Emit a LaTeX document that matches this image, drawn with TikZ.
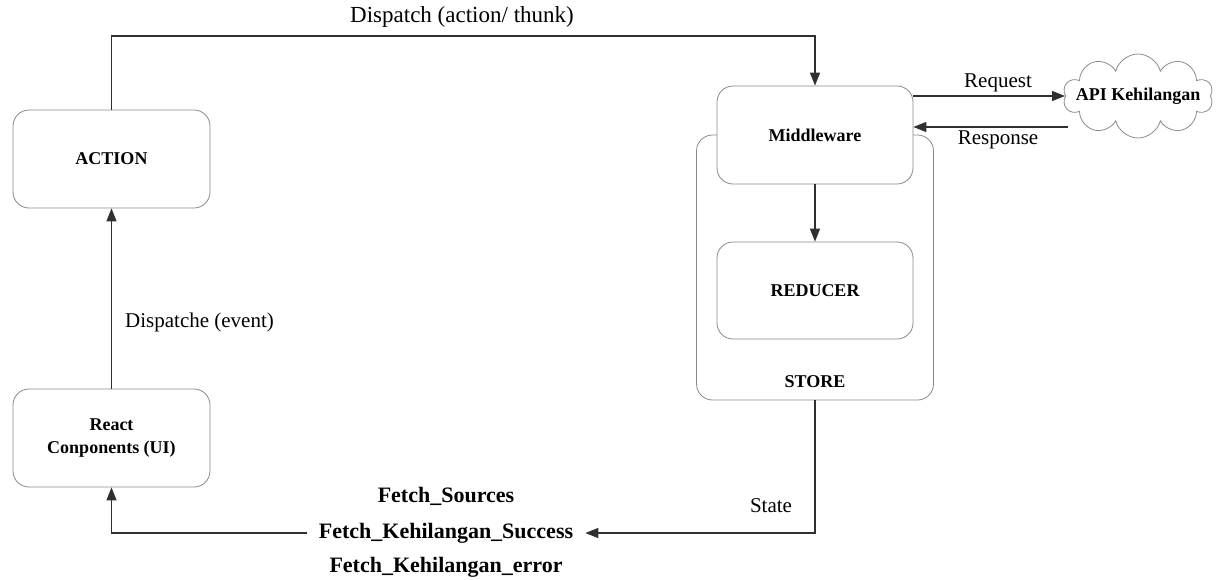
\documentclass[tikz,border=0pt]{standalone}
\usepackage{fontspec}
\setmainfont{Liberation Serif}
\usetikzlibrary{arrows.meta,shapes.symbols,calc}
\definecolor{boxline}{HTML}{8A8A8A}
\definecolor{wire}{HTML}{303030}
\begin{document}
\begin{tikzpicture}[x=1pt,y=-1pt,
  box/.style={draw=boxline, line width=0.8pt, rounded corners=16pt, fill=white,
              minimum width=197pt, minimum height=98pt, align=center,
              font=\bfseries\fontsize{18}{23}\selectfont},
  wirearrow/.style={draw=wire, line width=1.3pt, -{Triangle[length=13pt,width=10pt]}},
  wireline/.style={draw=wire, line width=1.3pt},
  lbl/.style={font=\fontsize{21}{24}\selectfont, inner sep=0pt},
  fetch/.style={font=\bfseries\fontsize{22}{25}\selectfont, inner xsep=12pt, inner ysep=0pt}]
  \useasboundingbox (0,0) rectangle (1222,580);

  % store frame, drawn first so the middleware box sits on its top edge
  \node[box, minimum width=237pt, minimum height=265pt] (store) at (815,267.5) {};
  \node[font=\bfseries\fontsize{18}{23}\selectfont] (storelbl) at (815,382) {STORE};

  \node[box] (action) at (111.5,159) {ACTION};
  \node[box] (react) at (111.5,438) {React\\Conponents (UI)};
  \node[box, minimum width=196pt] (mw) at (815,135) {Middleware};
  \node[box, minimum width=196pt, minimum height=97pt] (reducer) at (815,290.5) {REDUCER};

  % external API: cloud outline with its label on top
  \node[cloud, cloud puffs=10, cloud ignores aspect, draw=boxline, line width=0.8pt,
        minimum width=150pt, minimum height=84pt, inner sep=0pt] (api) at (1138,96) {};
  \node[font=\bfseries\fontsize{18}{23}\selectfont] (apilbl) at (api.center) {API Kehilangan};

  % dispatch loop from ACTION to the middleware
  \coordinate (dtop) at (111.5,36);
  \draw[wirearrow] (action.north) -- (dtop) -| (mw.north);
  \node[lbl, font=\fontsize{23}{26}\selectfont] (dlbl) at (462,17) {Dispatch (action/ thunk)};

  % UI dispatches an event to ACTION
  \draw[wirearrow] (react.north) -- (action.south);
  \node[lbl, anchor=west] (elbl) at (125,322) {Dispatche (event)};

  % middleware into the reducer
  \draw[wirearrow] (mw.south) -- (reducer.north);

  % request / response with the API
  \coordinate (reqend) at (1065,96);
  \coordinate (resstart) at (1068,127);
  \draw[wirearrow] (mw.east |- reqend) -- (reqend);
  \draw[wirearrow] (resstart) -- (mw.east |- resstart);
  \node[lbl] (reqlbl) at (998,83) {Request};
  \node[lbl] (reslbl) at (998,140) {Response};

  % actions returned to the UI
  \node[fetch] (fs) at (446,496) {Fetch\_Sources};
  \node[fetch] (fks) at (446,533) {Fetch\_Kehilangan\_Success};
  \node[fetch] (fke) at (446,567) {Fetch\_Kehilangan\_error};

  \draw[wirearrow] (store.south) |- (fks.east);
  \node[lbl] (slbl) at (771,506) {State};

  \draw[wirearrow] (fks.west) -| (react.south);
\end{tikzpicture}
\end{document}
